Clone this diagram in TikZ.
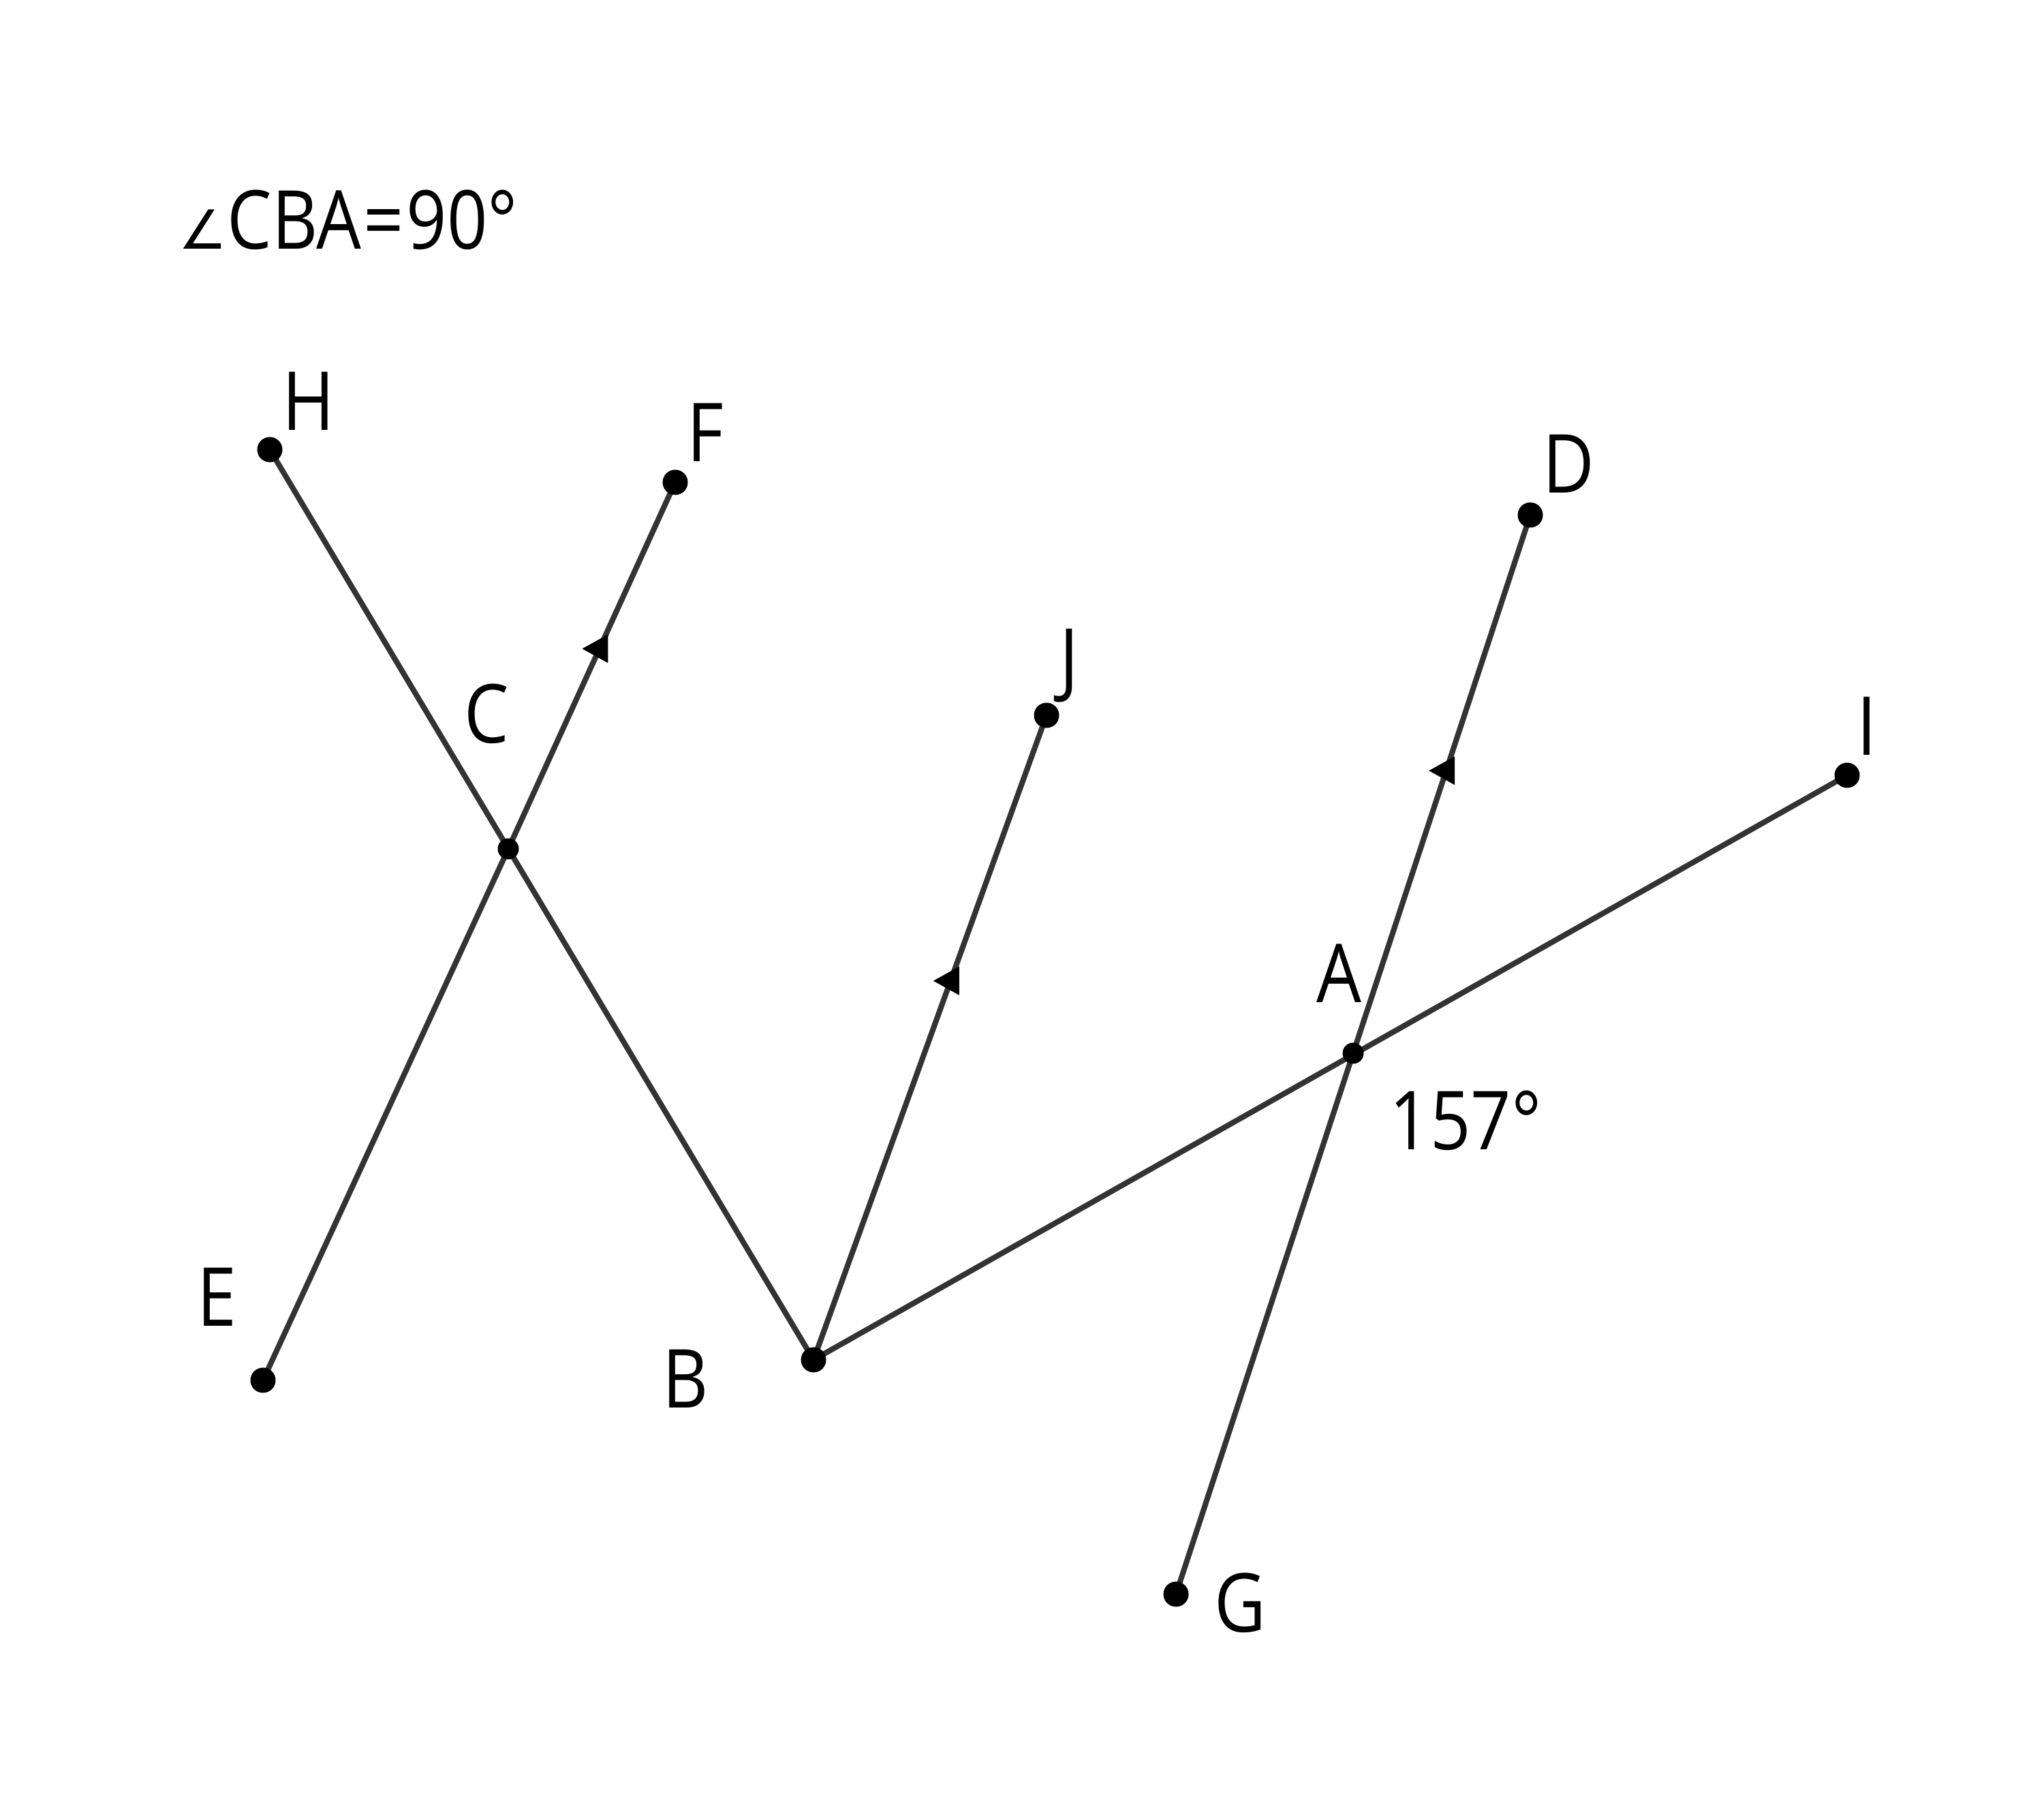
\documentclass[tikz,border=0pt]{standalone}
\usepackage{fontspec}
\setmainfont{Open Sans}[FakeStretch=0.87]
\newfontfamily\symfont{DejaVu Sans}
\usepackage{tikz}

\tikzset{
    seg/.style={draw=black!80,line width=2.3pt},
    lbl/.style={inner sep=0pt,font=\fontsize{34}{40}\selectfont},
    tri/.pic={\fill (-0.253,0) -- (0.127,0.21) -- (0.127,-0.21) -- cycle;}
}

\begin{document}
\begin{tikzpicture}
            \useasboundingbox (0,0) rectangle (30,26.47);
            \coordinate (H) at (3.96,19.87);
            \coordinate (F) at (9.91,19.39);
            \coordinate (D) at (22.46,18.91);
            \coordinate (J) at (15.36,15.97);
            \coordinate (I) at (27.11,15.09);
            \coordinate (C) at (7.46,14.01);
            \coordinate (A) at (19.86,11.01);
            \coordinate (E) at (3.86,6.21);
            \coordinate (B) at (11.94,6.51);
            \coordinate (G) at (17.26,3.07);

            \draw[seg] (H) -- (B);
            \draw[seg] (E) -- (C);
            \draw[seg] (C) -- (F) coordinate[pos=0.546] (cf);
            \draw[seg] (B) -- (J) coordinate[pos=0.588] (bj);
            \draw[seg] (B) -- (I);
            \draw[seg] (G) -- (A);
            \draw[seg] (A) -- (D) coordinate[pos=0.525] (ad);

            \pic at (cf) {tri};
            \pic at (bj) {tri};
            \pic at (ad) {tri};

            \foreach \p in {H,F,D,J,I,E,B,G}
                \fill (\p) circle (0.185);
            \fill (A) circle (0.155);
            \fill (C) circle (0.155);

            \node[lbl] (lH) at (4.53,20.58) {H};
            \node[lbl] (lF) at (10.35,20.12) {F};
            \node[lbl] (lD) at (23.02,19.66) {D};
            \node[lbl] (lJ) at (15.69,16.70) {J};
            \node[lbl] (lI) at (27.40,15.81) {I};
            \node[lbl] (lC) at (7.14,15.99) {C};
            \node[lbl] (lA) at (19.65,12.18) {A};
            \node[lbl] (lE) at (3.18,7.43) {E};
            \node[lbl] (lB) at (10.06,6.23) {B};
            \node[lbl] (lG) at (18.20,2.94) {G};
            \node[lbl] (ang) at (21.51,10.02) {157°};
            \node[lbl,anchor=base west] (title) at (2.62,22.81)
                {{\symfont\fontsize{22.5}{26}\selectfont ∠}CBA\kern1pt=\kern1pt90°};
        \end{tikzpicture}
\end{document}
